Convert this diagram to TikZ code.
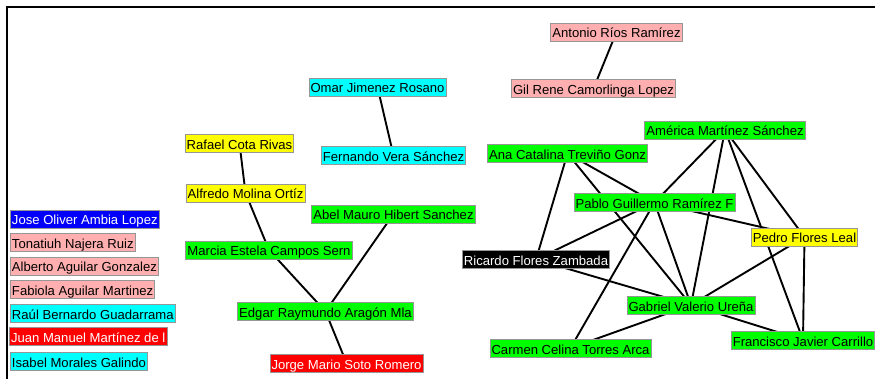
\documentclass[tikz,border=0pt]{standalone}
\usepackage{fontspec}
\setmainfont{Liberation Sans}
\usetikzlibrary{backgrounds}
\definecolor{pinkfill}{RGB}{255,175,175}
\definecolor{bluefill}{RGB}{0,0,250}
\definecolor{greenfill}{RGB}{0,255,0}
\definecolor{cyanfill}{RGB}{0,255,255}
\definecolor{yellowfill}{RGB}{255,255,0}
\definecolor{redfill}{RGB}{255,0,0}
\definecolor{boxline}{RGB}{150,150,150}
\tikzset{
  person/.style={draw=boxline, line width=0.8pt, rectangle,
    inner xsep=1.6pt, inner ysep=2pt, text height=13pt, text depth=1pt,
    font=\fontsize{13.1}{14}\selectfont},
  pinkp/.style={person, fill=pinkfill},
  bluep/.style={person, fill=bluefill, text=white},
  greenp/.style={person, fill=greenfill},
  cyanp/.style={person, fill=cyanfill},
  yellowp/.style={person, fill=yellowfill},
  redp/.style={person, fill=redfill, text=white},
  blackp/.style={person, fill=black, text=white},
  link/.style={line width=1.9pt, black},
  frame/.style={line width=2pt, black}
}
\begin{document}
\begin{tikzpicture}[x=1pt, y=-1pt]
\useasboundingbox (0,0) rectangle (875,379);
\clip (0,0) rectangle (875,379);
\draw[frame] (6.5,380) -- (6.5,7.5) -- (876,7.5);

% isolated people
\node[bluep,  anchor=west] (jose)     at (10,219)   {Jose Oliver Ambia Lopez};
\node[pinkp,  anchor=west] (tonatiuh) at (10,242.5) {Tonatiuh Najera Ruiz};
\node[pinkp,  anchor=west] (alberto)  at (10,266)   {Alberto Aguilar Gonzalez};
\node[pinkp,  anchor=west] (fabiola)  at (10,289)   {Fabiola Aguilar Martinez};
\node[cyanp,  anchor=west] (raul)     at (10,313)   {Raúl Bernardo Guadarrama};
\node[redp,   anchor=west] (juan)     at (9,336)    {Juan Manuel Martínez de l};
\node[cyanp,  anchor=west] (isabel)   at (10,361)   {Isabel Morales Galindo};

% left groups
\node[cyanp]   (omar)     at (377.5,87)    {Omar Jimenez Rosano};
\node[cyanp]   (fernando) at (393.5,155.5) {Fernando Vera Sánchez};
\node[yellowp] (rafael)   at (239.5,143.5) {Rafael Cota Rivas};
\node[yellowp] (alfredo)  at (245.5,193)   {Alfredo Molina Ortíz};
\node[greenp]  (marcia)   at (269,250)     {Marcia Estela Campos Sern};
\node[greenp]  (abel)     at (393.5,214)   {Abel Mauro Hibert Sanchez};
\node[greenp]  (edgar)    at (325.5,311.5) {Edgar Raymundo Aragón Mla};
\node[redp]    (jorge)    at (346.5,363)   {Jorge Mario Soto Romero};

% right groups
\node[pinkp]   (antonio)   at (616.5,32)    {Antonio Ríos Ramírez};
\node[pinkp]   (gil)       at (593.5,88.5)  {Gil Rene Camorlinga Lopez};
\node[greenp]  (america)   at (725,130)     {América Martínez Sánchez};
\node[greenp]  (ana)       at (567.5,153.5) {Ana Catalina Treviño Gonz};
\node[greenp]  (pablo)     at (654.5,202.5) {Pablo Guillermo Ramírez F};
\node[yellowp] (pedro)     at (804.5,237)   {Pedro Flores Leal};
\node[blackp]  (ricardo)   at (536,259.5)   {Ricardo Flores Zambada};
\node[greenp]  (gabriel)   at (691,305)     {Gabriel Valerio Ureña};
\node[greenp]  (carmen)    at (570.5,348)   {Carmen Celina Torres Arca};
\node[greenp]  (francisco) at (803,340)     {Francisco Javier Carrillo};

\begin{scope}[on background layer]
  \draw[link] (omar.center) -- (fernando.center);
  \draw[link] (rafael.center) -- (alfredo.center);
  \draw[link] (alfredo.center) -- (marcia.center);
  \draw[link] (marcia.center) -- (edgar.center);
  \draw[link] (abel.center) -- (edgar.center);
  \draw[link] (edgar.center) -- (jorge.center);
  \draw[link] (antonio.center) -- (gil.center);
  \draw[link] (ana.center) -- (ricardo.center);
  \draw[link] (ana.center) -- (gabriel.center);
  \draw[link] (ana.center) -- (pablo.center);
  \draw[link] (america.center) -- (pablo.center);
  \draw[link] (america.center) -- (gabriel.center);
  \draw[link] (america.center) -- (francisco.center);
  \draw[link] (america.center) -- (pedro.center);
  \draw[link] (pablo.center) -- (pedro.center);
  \draw[link] (pablo.center) -- (ricardo.center);
  \draw[link] (pablo.center) -- (carmen.center);
  \draw[link] (pablo.center) -- (gabriel.center);
  \draw[link] (ricardo.center) -- (gabriel.center);
  \draw[link] (pedro.center) -- (gabriel.center);
  \draw[link] (gabriel.center) -- (carmen.center);
  \draw[link] (gabriel.center) -- (francisco.center);
  \draw[link] (pedro.center) -- (francisco.center);
\end{scope}
\end{tikzpicture}
\end{document}
